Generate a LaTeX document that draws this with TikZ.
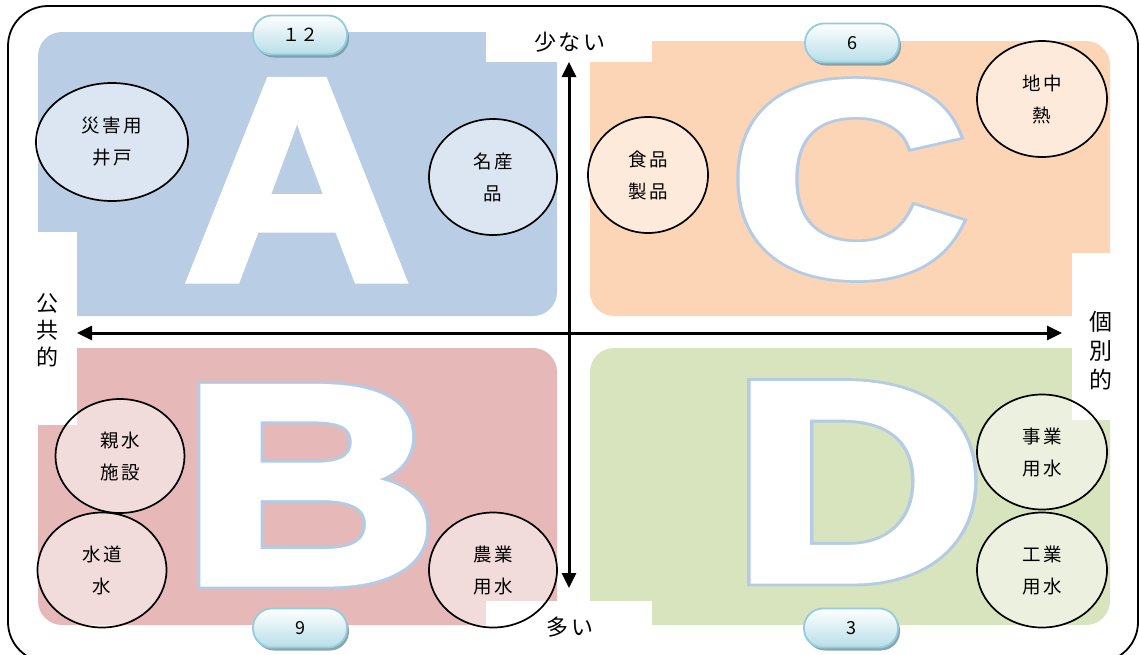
\documentclass[tikz,border=0pt]{standalone}
\usepackage{fontspec}
\usepackage{graphicx}
\usetikzlibrary{shapes.geometric,arrows.meta,shadows}
\newfontfamily\jp{Noto Sans CJK JP}
\newfontfamily\jpls{Noto Sans CJK JP}[LetterSpace=14]
\newfontfamily\jpax{Noto Sans CJK JP}[LetterSpace=12]
\newfontfamily\bigw{Liberation Sans Bold}[FakeBold=2.5]
\newfontfamily\bigo{Liberation Sans Bold}[FakeBold=4.5]
\newcommand\bigsz{\fontsize{280}{280}\selectfont}
\definecolor{qa}{HTML}{B9CDE5}
\definecolor{qb}{HTML}{E6B9B8}
\definecolor{qc}{HTML}{FBD5B5}
\definecolor{qd}{HTML}{D7E4BD}
\definecolor{lblue}{HTML}{B4CBE5}
\definecolor{bdgbot}{HTML}{B7DEE8}
\definecolor{bdgline}{HTML}{93CDDD}
\definecolor{bdgshadow}{HTML}{7C9CA6}
\tikzset{
  quad/.style={rounded corners=24},
  patch/.style={fill=white},
  ell/.style={ellipse, draw=black, line width=1.7pt, fill=white, fill opacity=0.5, text opacity=1,
    inner sep=0pt, align=center, font=\jpls\fontsize{18.5}{32}\selectfont},
  badge/.style={rounded corners=19pt, minimum width=94pt, minimum height=39pt, inner sep=0pt,
    top color=white, bottom color=bdgbot, draw=bdgline, line width=1.8pt,
    font=\jp\fontsize{18}{18}\selectfont,
    drop shadow={shadow xshift=2pt, shadow yshift=-3pt, fill=bdgshadow, opacity=0.9}},
  axlab/.style={inner sep=0pt, align=center, font=\jpax\fontsize{22}{27}\selectfont},
  bigl/.style={anchor=base, inner sep=0pt},
  axis/.style={line width=3pt, {Triangle[length=15pt,width=14pt]}-{Triangle[length=15pt,width=14pt]}}
}
\begin{document}
\begin{tikzpicture}[x=1pt,y=-1pt]
\useasboundingbox (0,0) rectangle (1139,654);
% quadrants
\fill[qa, quad] (38,32) rectangle (557,316);
\fill[qb, quad] (38,348) rectangle (557,625);
\fill[qc, quad] (590,41) rectangle (1110,316);
\fill[qd, quad] (590,348) rectangle (1110,625);
% white label patches
\fill[patch] (486,0) rectangle (652,62);
\fill[patch] (0,232) rectangle (77,425);
\fill[patch] (1072,253) rectangle (1139,420);
\fill[patch] (486,601) rectangle (652,654);
% outer frame
\draw[line width=1.8pt, rounded corners=40] (8,6) rectangle (1138,662);
% big letters
\node[bigl, text=white] (LA) at (297,280) {\scalebox{1.13}[1.035]{\bigw\bigsz A}};
\node[bigl, text=lblue] (LBo) at (309.5,583) {\scalebox{1.27}[1.015]{\bigo\bigsz B}};
\node[bigl, text=white] (LB) at (309.5,583) {\scalebox{1.27}[1.015]{\bigw\bigsz B}};
\node[bigl, text=lblue] (LCo) at (848.5,274) {\scalebox{1.17}[0.98]{\bigo\bigsz C}};
\node[bigl, text=white] (LC) at (848.5,274) {\scalebox{1.17}[0.98]{\bigw\bigsz C}};
\node[bigl, text=lblue] (LDo) at (858,580) {\scalebox{1.25}[1.015]{\bigo\bigsz D}};
\node[bigl, text=white] (LD) at (858,580) {\scalebox{1.25}[1.015]{\bigw\bigsz D}};
% axes
\coordinate (axL) at (77,333);
\coordinate (axR) at (1062,333);
\coordinate (axT) at (569,62);
\coordinate (axB) at (569,588);
\draw[axis] (axL) -- (axR);
\draw[axis] (axB) -- (axT);
% axis labels
\node[axlab] (lTop) at (570,42) {少ない};
\node[axlab] (lBot) at (570,627) {多い};
\node[axlab] (lLeft) at (47,330) {公\\共\\的};
\node[axlab, font=\jpax\fontsize{23}{29}\selectfont] (lRight) at (1101,351) {個\\別\\的};
% ellipses
\node[ell, minimum width=152pt, minimum height=118pt] (e1) at (112,142) {災害用\\井戸};
\node[ell, minimum width=128pt, minimum height=116pt] (e2) at (493,177) {名産\\品};
\node[ell, minimum width=120pt, minimum height=116pt] (e3) at (648,175) {食品\\製品};
\node[ell, minimum width=130pt, minimum height=116pt] (e4) at (1042,99) {地中\\熱};
\node[ell, minimum width=129pt, minimum height=114pt] (e5) at (120,456) {親水\\施設};
\node[ell, minimum width=129pt, minimum height=115pt] (e6) at (102,570) {水道\\水};
\node[ell, minimum width=128pt, minimum height=115pt] (e7) at (493,570) {農業\\用水};
\node[ell, minimum width=130pt, minimum height=115pt] (e8) at (1042,452) {事業\\用水};
\node[ell, minimum width=130pt, minimum height=115pt] (e9) at (1042,570) {工業\\用水};
% badges
\node[badge] (b12) at (300,35) {１２};
\node[badge] (b6) at (852,43) {6};
\node[badge] (b9) at (300,628) {9};
\node[badge] (b3) at (851,628) {3};
\end{tikzpicture}
\end{document}
